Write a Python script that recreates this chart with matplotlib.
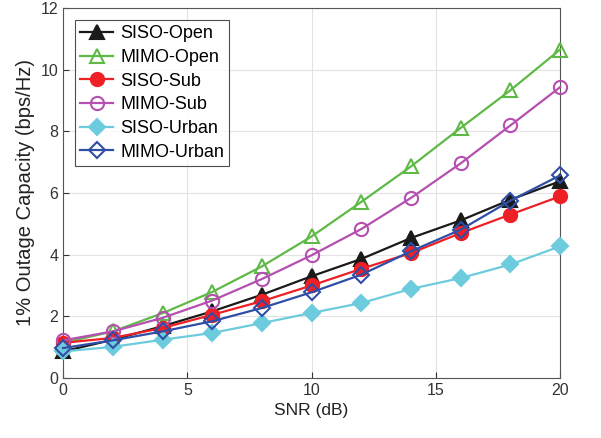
import matplotlib
matplotlib.use('Agg')
import matplotlib.pyplot as plt

plt.rcParams['font.family'] = ['Liberation Sans', 'DejaVu Sans']

## Data
snr = [0, 2, 4, 6, 8, 10, 12, 14, 16, 18, 20]
siso_open = [0.86, 1.24, 1.68, 2.16, 2.70, 3.30, 3.86, 4.54, 5.11, 5.78, 6.38]
mimo_open = [1.14, 1.51, 2.10, 2.79, 3.62, 4.59, 5.71, 6.86, 8.11, 9.33, 10.65]
siso_sub = [1.14, 1.30, 1.62, 2.05, 2.49, 3.00, 3.54, 4.05, 4.70, 5.30, 5.89]
mimo_sub = [1.22, 1.51, 1.95, 2.51, 3.21, 3.98, 4.83, 5.84, 6.96, 8.19, 9.43]
siso_urban = [0.86, 1.01, 1.24, 1.46, 1.78, 2.11, 2.43, 2.89, 3.24, 3.68, 4.27]
mimo_urban = [0.97, 1.22, 1.51, 1.84, 2.27, 2.78, 3.35, 4.11, 4.81, 5.75, 6.57]

fig = plt.figure(figsize=(6.01, 4.38), dpi=100)
ax = fig.add_axes([0.105, 0.137, 0.827, 0.845])

# (label, values, color, marker, filled)
series = [
    ('SISO-Open', siso_open, '#1a1a1a', '^', True),
    ('MIMO-Open', mimo_open, '#5fb946', '^', False),
    ('SISO-Sub', siso_sub, '#ee1f25', 'o', True),
    ('MIMO-Sub', mimo_sub, '#b54fb0', 'o', False),
    ('SISO-Urban', siso_urban, '#6ccbdc', 'D', True),
    ('MIMO-Urban', mimo_urban, '#2f4ea6', 'D', False),
]
sizes = {'^': 10.5, 'o': 9.5, 'D': 8}
for name, vals, col, mk, filled in series:
    ax.plot(snr, vals, color=col, lw=1.6, marker=mk, markersize=sizes[mk],
            markerfacecolor=col if filled else 'none', markeredgecolor=col,
            markeredgewidth=1.5, label=name, clip_on=False, zorder=3)

ax.set_xlim(0, 20)
ax.set_ylim(0, 12)
ax.set_xticks([0, 5, 10, 15, 20])
ax.set_yticks([0, 2, 4, 6, 8, 10, 12])
ax.grid(True, color='#e3e3e3', lw=0.8)
ax.set_axisbelow(True)
ax.tick_params(direction='in', labelsize=11.5, colors='#333333', length=4)
for s in ax.spines.values():
    s.set_color('#555555')
ax.set_xlabel('SNR (dB)', fontsize=12.5, color='#222222')
ax.set_ylabel('1% Outage Capacity (bps/Hz)', fontsize=14.5, color='#222222')

leg = ax.legend(loc='upper left', fontsize=13, frameon=True, fancybox=False,
                edgecolor='#222222', handlelength=1.8, borderpad=0.3,
                labelspacing=0.37, handletextpad=0.4, borderaxespad=0,
                bbox_to_anchor=(0.024, 0.968))
leg.get_frame().set_linewidth(0.8)

fig.savefig('out.png', dpi=100)
